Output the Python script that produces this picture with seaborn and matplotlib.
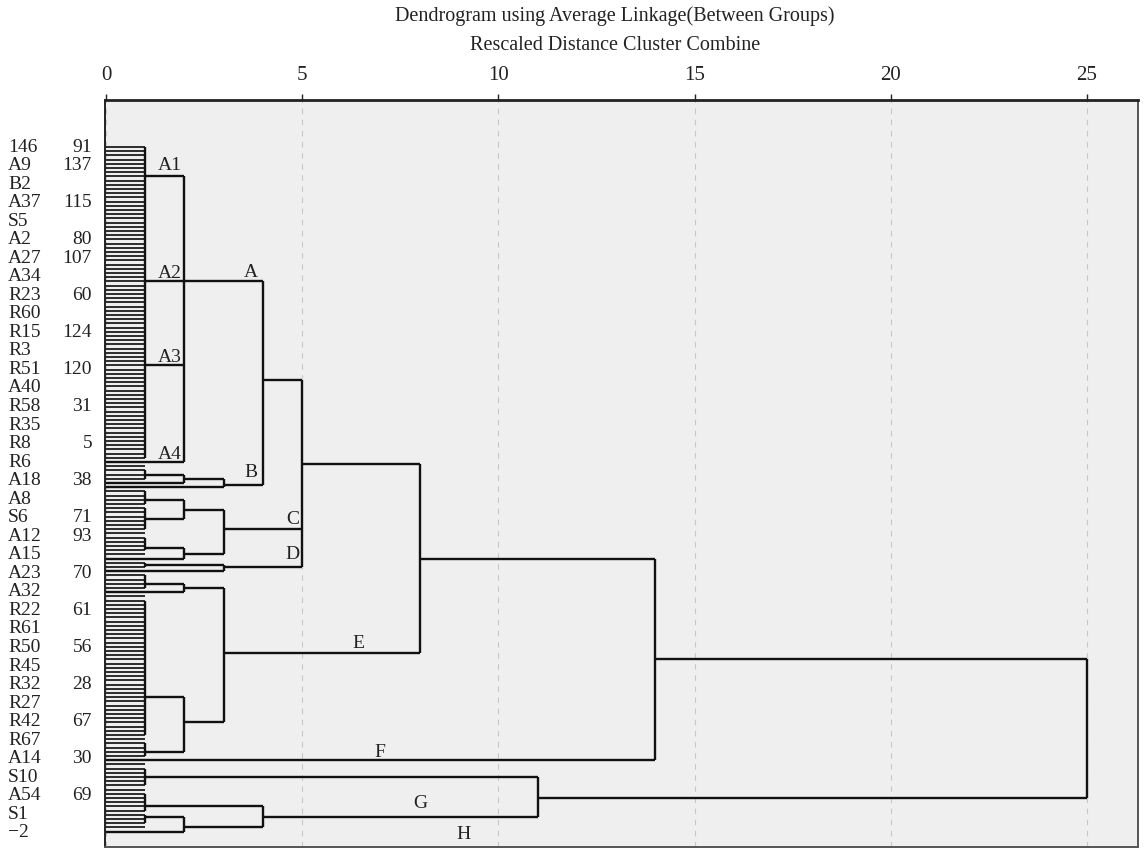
import numpy as np
import matplotlib
matplotlib.use('Agg')
import matplotlib.pyplot as plt
import matplotlib.transforms as mtransforms
import seaborn as sns

# === DATOS ===
# escala de distancia reescalada (eje superior)
dist_ticks = [0, 5, 10, 15, 20, 25]

# etiquetas de casos, dos columnas como las imprime SPSS
case_names = ['146', 'A9', 'B2', 'A37', 'S5', 'A2', 'A27', 'A34', 'R23', 'R60',
              'R15', 'R3', 'R51', 'A40', 'R58', 'R35', 'R8', 'R6', 'A18', 'A8',
              'S6', 'A12', 'A15', 'A23', 'A32', 'R22', 'R61', 'R50', 'R45', 'R32',
              'R27', 'R42', 'R67', 'A14', 'S10', 'A54', 'S1', '\u22122']
case_ids = ['91', '137', '', '115', '', '80', '107', '', '60', '',
            '124', '', '120', '', '31', '', '5', '', '38', '',
            '71', '93', '', '70', '', '61', '', '56', '', '28',
            '', '67', '', '30', '', '69', '', '']

n_leaves = 164  # filas de hojas del dendrograma

# bloques de hojas unidos a distancia 1: primera fila, ultima fila, fila de salida
block_names = ['A1', 'A2', 'A3', 'B0', 'C1', 'C2', 'C3', 'D0', 'E1', 'E2', 'E3', 'G1', 'G2', 'H0']
block_first = [0, 20, 43, 77, 82, 86, 93, 99, 102, 108, 142, 148, 154, 159]
block_last = [20, 43, 74, 79, 85, 91, 96, 100, 105, 140, 145, 152, 158, 161]
block_anchor = [7, 32, 52, 78, 84, 88.5, 95.5, 99.5, 104, 131, 144, 150, 157, 159.5]

# fusiones: nombre, distancia, hijos (bloque/nodo o fila de hoja), fila de salida
node_names = ['B1', 'B', 'A', 'AB', 'C12', 'C34', 'C', 'D', 'ABCD',
              'E1n', 'E23', 'E', 'ABCDE', 'F', 'Hn', 'GH', 'G', 'root']
node_dist = [2, 3, 2, 4, 2, 2, 3, 3, 5,
             2, 2, 3, 8, 14, 2, 4, 11, 25]
node_children = [['B0', 80], ['B1', 81], ['A1', 'A2', 'A3', 75], ['A', 'B'],
                 ['C1', 'C2'], ['C3', 98], ['C12', 'C34'], ['D0', 101], ['AB', 'C', 'D'],
                 ['E1', 106], ['E2', 'E3'], ['E1n', 'E23'], ['ABCD', 'E'], ['ABCDE', 146],
                 ['H0', 163], ['G2', 'Hn'], ['G1', 'GH'], ['F', 'G']]
node_anchor = [79, 80.5, 32, 55.5, 86.5, 97, 91, 100, 75.5,
               105, 137, 120.5, 98, 122, 162, 159.5, 155, None]

# rotulos de grupos (letra, x, fila)
group_text = ['A1', 'A2', 'A3', 'A4', 'A', 'B', 'C', 'D', 'E', 'F', 'G', 'H']
group_x = [1.63, 1.63, 1.63, 1.63, 3.70, 3.70, 4.77, 4.74, 6.42, 6.98, 8.0, 9.1]
group_row = [4.5, 30.2, 50, 73.3, 29.8, 77.4, 88.6, 97.1, 118.1, 144.1, 156.2, 163.8]

# === ESTILO ===
sns.set_theme(style='whitegrid', rc={'axes.facecolor': '#efefef',
                                     'figure.facecolor': 'white'})
plt.rcParams['font.family'] = ['Liberation Serif', 'DejaVu Serif']

fig = plt.figure(figsize=(11.46, 8.5), dpi=100)
ax = fig.add_axes([105 / 1146, 3 / 850, (1138 - 105) / 1146, 747 / 850])

tree_kw = dict(color='#111111', lw=1.7, zorder=3)

# hojas: lineas cortas de 0 a 1
rows = np.arange(n_leaves)
ax.hlines(rows, 0, 1, color='#151515', lw=1.25, zorder=2)

pos = {}
for name, first, last, anc in zip(block_names, block_first, block_last, block_anchor):
    ax.vlines(1, min(first, anc), max(last, anc), **tree_kw)
    pos[name] = (1, anc)

for name, d, kids, anc in zip(node_names, node_dist, node_children, node_anchor):
    kid_rows = []
    for k in kids:
        kd, kr = (0, k) if isinstance(k, int) else pos[k]
        ax.hlines(kr, kd, d, **tree_kw)
        kid_rows.append(kr)
    ax.vlines(d, min(kid_rows), max(kid_rows), **tree_kw)
    pos[name] = (d, anc)

for t, gx, gr in zip(group_text, group_x, group_row):
    ax.text(gx, gr, t, ha='center', va='center', fontsize=14, color='#222222', zorder=4)

# ejes
ax.set_xlim(-0.025, 26.3)
ax.set_ylim((847 - 147) / 4.2, (100 - 147) / 4.2)
ax.xaxis.tick_top()
ax.set_xticks(dist_ticks)
ax.set_xticklabels([str(v) for v in dist_ticks])
ax.set_yticks([])
ax.tick_params(axis='x', direction='out', length=4, width=1, colors='#222222',
               labelsize=15, pad=7, top=True, bottom=False)
ax.grid(axis='x', color='#c8c8c8', ls=(0, (5, 5)), lw=0.8)
ax.grid(axis='y', visible=False)
ax.set_axisbelow(True)
for side, sp in ax.spines.items():
    sp.set_visible(True)
    sp.set_color('#222222' if side in ('top', 'left') else '#555555')
    sp.set_linewidth(2.0 if side == 'top' else 1.4)

# etiquetas de casos a la izquierda
label_rows = np.linspace(0, 163.3, len(case_names))
trans = mtransforms.blended_transform_factory(fig.transFigure, ax.transData)
for r, nm, cid in zip(label_rows, case_names, case_ids):
    ax.text(8 / 1146, r, nm, transform=trans, ha='left', va='center', fontsize=14, color='#222222')
    if cid:
        ax.text(92 / 1146, r, cid, transform=trans, ha='right', va='center', fontsize=14, color='#222222')

fig.text(615 / 1146, 1 - 16 / 850, 'Dendrogram using Average Linkage(Between Groups)',
         ha='center', va='center', fontsize=14.5, color='#222222')
fig.text(615 / 1146, 1 - 45 / 850, 'Rescaled Distance Cluster Combine',
         ha='center', va='center', fontsize=14.5, color='#222222')

fig.savefig('out.png', dpi=100)
